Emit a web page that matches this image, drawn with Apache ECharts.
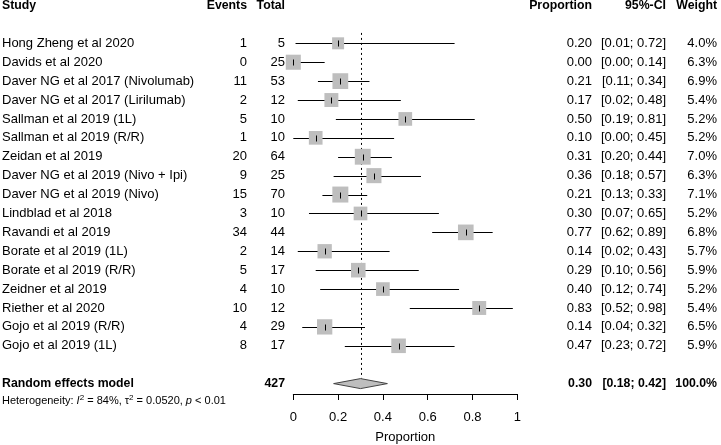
<!DOCTYPE html>
<html>
<head>
<meta charset="utf-8">
<script src="https://cdn.jsdelivr.net/npm/echarts@6/dist/echarts.min.js"></script>
<style>html,body{margin:0;padding:0;background:#fff}#c{width:721px;height:445px}</style>
</head>
<body>
<div id="c"></div>
<script>
const studies = ["Hong Zheng et al 2020","Davids et al 2020","Daver NG et al 2017 (Nivolumab)","Daver NG et al 2017 (Lirilumab)","Sallman et al 2019 (1L)","Sallman et al 2019 (R/R)","Zeidan et al 2019","Daver NG et al 2019 (Nivo + Ipi)","Daver NG et al 2019 (Nivo)","Lindblad et al 2018","Ravandi et al 2019","Borate et al 2019 (1L)","Borate et al 2019 (R/R)","Zeidner et al 2019","Riether et al 2020","Gojo et al 2019 (R/R)","Gojo et al 2019 (1L)"];
const events = [1,0,11,2,5,1,20,9,15,3,34,2,5,4,10,4,8];
const totals = [5,25,53,12,10,10,64,25,70,10,44,14,17,10,12,29,17];
const props  = [0.20,0.00,0.21,0.17,0.50,0.10,0.31,0.36,0.21,0.30,0.77,0.14,0.29,0.40,0.83,0.14,0.47];
const lower  = [0.01,0.00,0.11,0.02,0.19,0.00,0.20,0.18,0.13,0.07,0.62,0.02,0.10,0.12,0.52,0.04,0.23];
const upper  = [0.72,0.14,0.34,0.48,0.81,0.45,0.44,0.57,0.33,0.65,0.89,0.43,0.56,0.74,0.98,0.32,0.72];
const weights = [4.0,6.3,6.9,5.4,5.2,5.2,7.0,6.3,7.1,5.2,6.8,5.7,5.9,5.2,5.4,6.5,5.9];
const summaryLabel = "Random effects model";
const summaryTotal = 427;
const summaryEst = 0.30, summaryLo = 0.18, summaryHi = 0.42, summaryWeight = 100.0;
const xTicks = [0, 0.2, 0.4, 0.6, 0.8, 1];

const headerRow = -2, summaryRow = 18;
const FONT = '"Liberation Sans", Arial, sans-serif';
const REG = '13px ' + FONT;
const BOLD = 'bold 12.3px ' + FONT;
const cols = {
  study: {x: 2, align: 'left'},
  events: {x: 247, align: 'right'},
  total: {x: 285, align: 'right'},
  prop: {x: 592, align: 'right'},
  ci: {x: 666, align: 'right'},
  weight: {x: 717, align: 'right'}
};

const fmtCI = (l, h) => '[' + l.toFixed(2) + '; ' + h.toFixed(2) + ']';

const textRows = [];
textRows.push({row: headerRow, bold: true, cells: {study:'Study', events:'Events', total:'Total', prop:'Proportion', ci:'95%-CI', weight:'Weight'}});
studies.forEach((s, i) => {
  textRows.push({row: i, bold: false, cells: {study: s, events: String(events[i]), total: String(totals[i]), prop: props[i].toFixed(2), ci: fmtCI(lower[i], upper[i]), weight: weights[i].toFixed(1) + '%'}});
});
textRows.push({row: summaryRow, bold: true, cells: {study: summaryLabel, events: '', total: String(summaryTotal), prop: summaryEst.toFixed(2), ci: fmtCI(summaryLo, summaryHi), weight: summaryWeight.toFixed(1) + '%'}});

const forestData = studies.map((s, i) => [props[i], i, lower[i], upper[i], weights[i]]);

const chart = echarts.init(document.getElementById('c'), null, {renderer: 'canvas'});
chart.setOption({
  animation: false,
  backgroundColor: '#fff',
  grid: {left: 293.3, width: 224, top: 5.5, height: 388.5, containLabel: false, outerBoundsMode: 'none'},
  xAxis: {
    type: 'value', min: 0, max: 1, interval: 0.2, position: 'bottom',
    axisLine: {show: true, onZero: false, lineStyle: {color: '#000', width: 1}},
    axisTick: {show: true, length: 6, lineStyle: {color: '#000', width: 1}},
    axisLabel: {color: '#000', fontSize: 13, fontFamily: FONT, margin: 17,
      formatter: v => { const t = xTicks.find(k => Math.abs(k - v) < 1e-9); return t === undefined ? '' : String(t); }},
    splitLine: {show: false},
    name: 'Proportion', nameLocation: 'middle', nameGap: 37,
    nameTextStyle: {color: '#000', fontSize: 13, fontFamily: FONT}
  },
  yAxis: {type: 'value', min: -2, max: 18.55, inverse: true, show: false},
  series: [
    {
      type: 'custom', silent: true, z: 1, clip: false,
      data: [[summaryEst, summaryRow]],
      renderItem: (params, api) => {
        const top = api.coord([api.value(0), -0.55]);
        const bot = api.coord([api.value(0), api.value(1)]);
        const x = Math.round(top[0]) + 0.5;
        return {type: 'line', shape: {x1: x, y1: top[1], x2: x, y2: bot[1] - 5},
          style: {stroke: '#000', lineWidth: 1, lineDash: [2, 3]}};
      }
    },
    {
      type: 'custom', silent: true, z: 2, clip: false,
      data: forestData,
      encode: {x: [0, 2, 3], y: 1},
      renderItem: (params, api) => {
        const r = api.value(1);
        const pe = api.coord([api.value(0), r]);
        const pl = api.coord([api.value(2), r]);
        const ph = api.coord([api.value(3), r]);
        const y = Math.round(pe[1]) + 0.5;
        const s = 6 * Math.sqrt(api.value(4));
        return {type: 'group', children: [
          {type: 'line', shape: {x1: pl[0], y1: y, x2: ph[0], y2: y}, style: {stroke: '#000', lineWidth: 1}},
          {type: 'rect', shape: {x: pe[0] - s / 2, y: pe[1] - s / 2, width: s, height: s}, style: {fill: '#bebebe'}},
          {type: 'line', shape: {x1: Math.round(pe[0]) + 0.5, y1: y - 3, x2: Math.round(pe[0]) + 0.5, y2: y + 3}, style: {stroke: '#000', lineWidth: 1}}
        ]};
      }
    },
    {
      type: 'custom', silent: true, z: 3, clip: false,
      data: [[summaryEst, summaryRow, summaryLo, summaryHi]],
      encode: {x: [0, 2, 3], y: 1},
      renderItem: (params, api) => {
        const r = api.value(1);
        const pe = api.coord([api.value(0), r]);
        const pl = api.coord([api.value(2), r]);
        const ph = api.coord([api.value(3), r]);
        const h = 5;
        return {type: 'polygon', shape: {points: [[pl[0], pe[1]], [pe[0], pe[1] - h], [ph[0], pe[1]], [pe[0], pe[1] + h]]},
          style: {fill: '#bebebe', stroke: '#444', lineWidth: 1}};
      }
    },
    {
      type: 'custom', silent: true, z: 4, clip: false,
      data: textRows.map((t, i) => [0, t.row, i]),
      encode: {x: 0, y: 1},
      renderItem: (params, api) => {
        const t = textRows[api.value(2)];
        const y = api.coord([0, api.value(1)])[1];
        const children = [];
        Object.keys(cols).forEach(k => {
          const txt = t.cells[k];
          if (!txt) return;
          children.push({type: 'text', x: cols[k].x, y: y,
            style: {text: txt, textAlign: cols[k].align, textVerticalAlign: 'middle',
              font: t.bold ? BOLD : REG, fill: '#000'}});
        });
        return {type: 'group', children};
      }
    },
    {
      type: 'custom', silent: true, z: 4, clip: false,
      data: [[0, summaryRow]],
      renderItem: (params, api) => {
        const y = api.coord([0, api.value(1)])[1] + 17;
        return {type: 'text', x: 2, y: y, style: {
          text: 'Heterogeneity: {i|I}{sup|2} = 84%, τ{sup|2} = 0.0520, {i|p} < 0.01',
          textVerticalAlign: 'middle', textAlign: 'left',
          fontSize: 11, fontFamily: FONT, fill: '#000', lineHeight: 14,
          rich: {
            i: {fontStyle: 'italic', fontSize: 11, fontFamily: FONT, fill: '#000'},
            sup: {fontSize: 8, fontFamily: FONT, fill: '#000', verticalAlign: 'top', lineHeight: 14, padding: [0,0,5,0]}
          }
        }};
      }
    }
  ]
});
</script>
</body>
</html>
